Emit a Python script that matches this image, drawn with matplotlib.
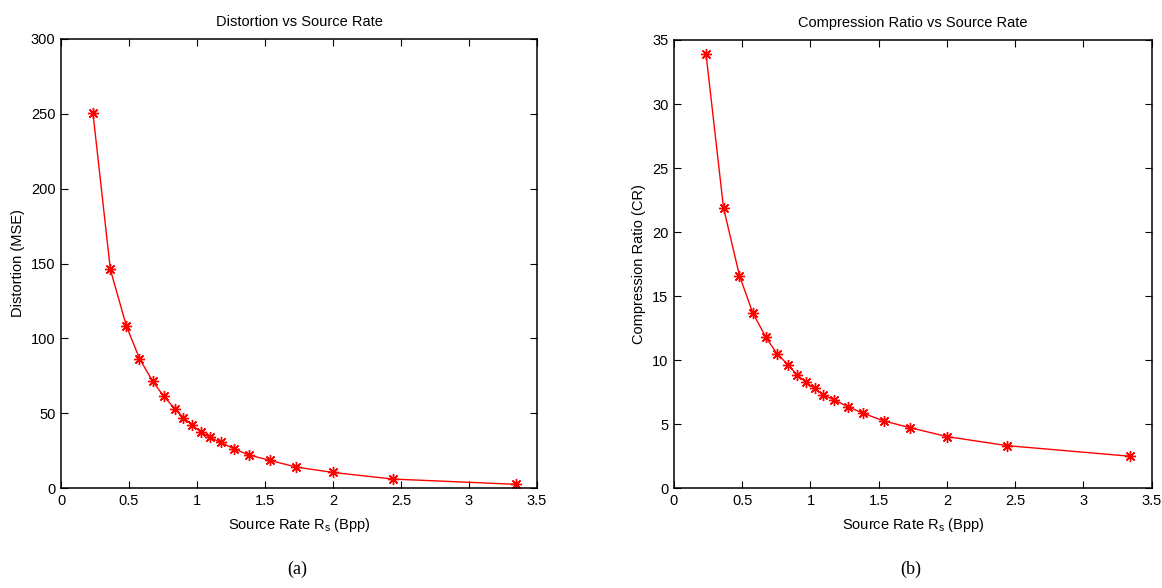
import matplotlib
matplotlib.use("Agg")
import matplotlib.pyplot as plt

plt.rcParams['font.family'] = ['Liberation Sans', 'DejaVu Sans']

# source rate (bpp)
rate = [0.235, 0.363, 0.48, 0.577, 0.673, 0.755, 0.836, 0.90, 0.966, 1.03,
        1.095, 1.175, 1.272, 1.385, 1.536, 1.73, 2.003, 2.44, 3.343]
mse = [250.5, 146, 108.5, 86.5, 71.5, 61.3, 53.1, 47.1, 41.8, 37.5,
       33.8, 30.5, 26.2, 22, 18.5, 14, 10.4, 6, 2.5]
cr = [33.9, 21.9, 16.6, 13.7, 11.8, 10.5, 9.65, 8.85, 8.3, 7.8,
      7.27, 6.9, 6.38, 5.86, 5.26, 4.73, 4.03, 3.33, 2.5]

xticks = [0, 0.5, 1, 1.5, 2, 2.5, 3, 3.5]
xtick_labels = ['0', '0.5', '1', '1.5', '2', '2.5', '3', '3.5']

fig = plt.figure(figsize=(11.62, 5.88), dpi=100)
ax1 = fig.add_axes([0.0525, 0.170, 0.4096, 0.7637])
ax2 = fig.add_axes([0.580, 0.1696, 0.4111, 0.7624])

fs = 10.5

def style(ax, yvals, ylim, yticks, title, ylabel):
    # matlab style asterisk marker
    ax.plot(rate, yvals, color='red', lw=1.0, marker=(8, 2, 0), ms=8,
            mew=1.0, mec='red', mfc='red')
    ax.set_xlim(0, 3.5)
    ax.set_ylim(*ylim)
    ax.set_xticks(xticks)
    ax.set_xticklabels(xtick_labels)
    ax.set_yticks(yticks)
    ax.tick_params(direction='in', length=5, width=0.8, labelsize=fs,
                   top=True, right=True, pad=4, colors='black')
    for s in ax.spines.values():
        s.set_linewidth(1.1)
        s.set_color('black')
    ax.set_title(title, fontsize=fs, pad=9)
    ax.set_xlabel('Source Rate R$_\\mathregular{s}$ (Bpp)', fontsize=fs, labelpad=6)
    ax.set_ylabel(ylabel, fontsize=fs, labelpad=4)

style(ax1, mse, (0, 300), [0, 50, 100, 150, 200, 250, 300],
      'Distortion vs Source Rate', 'Distortion (MSE)')
style(ax2, cr, (0, 35), [0, 5, 10, 15, 20, 25, 30, 35],
      'Compression Ratio vs Source Rate', 'Compression Ratio (CR)')

fig.text(297 / 1162, 1 - 569 / 588, '(a)', family='Liberation Serif',
         fontsize=13, ha='center', va='center')
fig.text(911 / 1162, 1 - 569 / 588, '(b)', family='Liberation Serif',
         fontsize=13, ha='center', va='center')

fig.savefig('out.png', dpi=100)
